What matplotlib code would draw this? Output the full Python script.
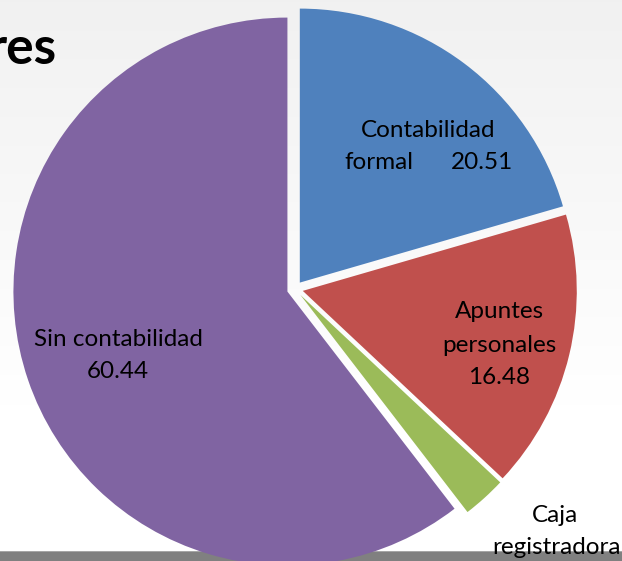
import numpy as np
import matplotlib
matplotlib.use("Agg")
import matplotlib.pyplot as plt

# ---- data ----
categories = ["Contabilidad formal", "Apuntes personales", "Caja registradora", "Sin contabilidad"]
values = [20.51, 16.48, 2.57, 60.44]
colors = ["#4F81BD", "#C0504D", "#9BBB59", "#8064A2"]
title_fragment = "res"

W, H = 622, 561
fig = plt.figure(figsize=(W / 100, H / 100), dpi=100)
ax = fig.add_axes([0, 0, 1, 1])

def Y(y_img):
    return H - y_img

# background gradient (light gray at top fading to white)
grad = np.linspace(0, 1, 200)
shade = 0.945 + (1.0 - 0.945) * np.clip(grad / 0.72, 0, 1)
img = np.repeat(shade[:, None], 2, axis=1)
ax.imshow(np.dstack([img, img, img]), extent=[0, W, 0, H], aspect="auto",
          zorder=0, origin="upper")

# bottom gray bar
ax.add_patch(plt.Rectangle((0, Y(561)), W, 10, color="#808080", zorder=1, lw=0))
ax.add_patch(plt.Rectangle((0, Y(552)), W, 1.2, color="#a6a6a6", zorder=1, lw=0))

# pie
R = 274
cx, cy = 295, Y(289)
wedges, _ = ax.pie(values, colors=colors, startangle=90, counterclock=False,
                   radius=R, center=(cx, cy), explode=[8] * len(values),
                   wedgeprops=dict(linewidth=0), frame=True)
for w in wedges:
    w.set_zorder(2)
ax.set_xlim(0, W)
ax.set_ylim(0, H)
ax.set_aspect("auto")
ax.axis("off")

fam = ["Lato", "DejaVu Sans"]
fs = 17.5
tk = dict(fontsize=fs, family=fam, color="black", ha="center", va="center", zorder=5)

# labels
ax.text(428, Y(130), "Contabilidad", **tk)
ax.text(379, Y(162), "formal", **tk)
ax.text(482, Y(162), f"{values[0]:.2f}", **tk)

ax.text(499, Y(312), "Apuntes", **tk)
ax.text(499, Y(345), "personales", **tk)
ax.text(499, Y(377), f"{values[1]:.2f}", **tk)

ax.text(555, Y(516), "Caja", **tk)
ax.text(557, Y(548), "registradora", **tk)

ax.text(118, Y(339), "Sin contabilidad", **tk)
ax.text(118, Y(372), f"{values[3]:.2f}", **tk)

# partially visible title
ax.text(57, Y(64), title_fragment, fontsize=37, fontweight="bold", family=fam,
        ha="right", va="baseline", color="black", zorder=5)

fig.savefig("out.png", dpi=100)
